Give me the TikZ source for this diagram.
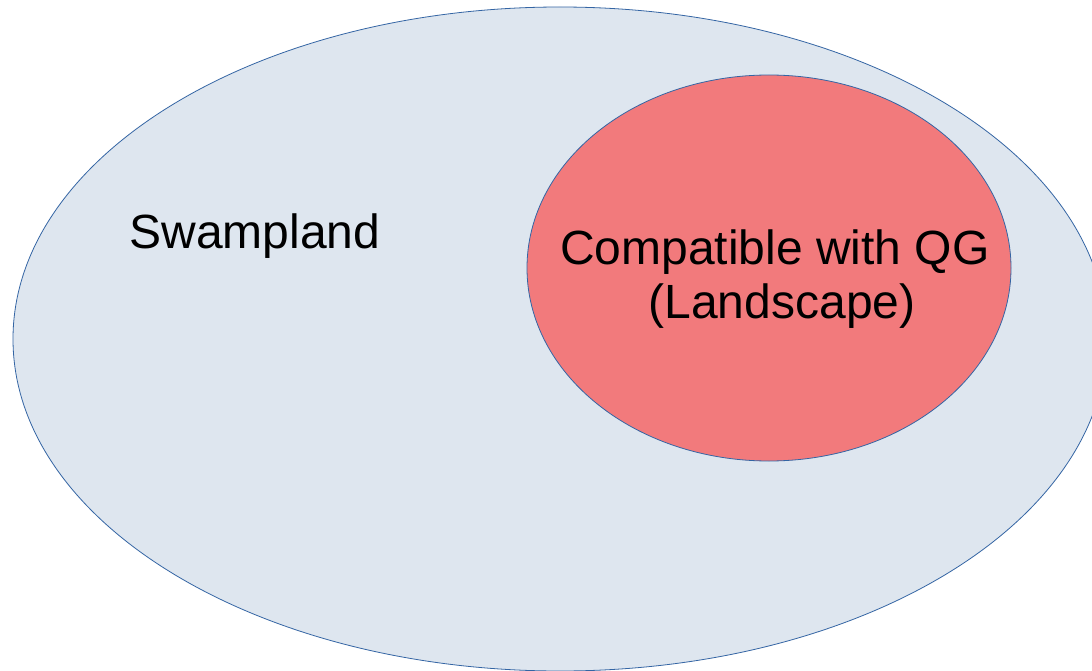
\documentclass[tikz,border=0pt]{standalone}
\usepackage{fontspec}
\setmainfont{Liberation Sans}
\definecolor{outerfill}{HTML}{DEE6EF}
\definecolor{innerfill}{HTML}{F27A7C}
\definecolor{edge}{HTML}{3465A4}
\tikzset{
  region/.style={draw=edge, line width=0.8pt},
  lbl/.style={anchor=base, inner sep=0pt, font=\fontsize{48}{56}\selectfont, text=black}
}
\begin{document}
\begin{tikzpicture}[x=1pt,y=-1pt]
\useasboundingbox (0,0) rectangle (1092,671);
\clip (0,0) rectangle (1092,671);
\fill[white] (0,0) rectangle (1092,671);
\draw[region, fill=outerfill] (560,339) ellipse [x radius=547, y radius=332];
\draw[region, fill=innerfill] (769,268) ellipse [x radius=242, y radius=193];
\node[lbl] (swamp) at (255,248) {Swampland};
\node[lbl] (compat) at (775,264) {Compatible with QG};
\node[lbl] (land) at (782,318) {(Landscape)};
\end{tikzpicture}
\end{document}
